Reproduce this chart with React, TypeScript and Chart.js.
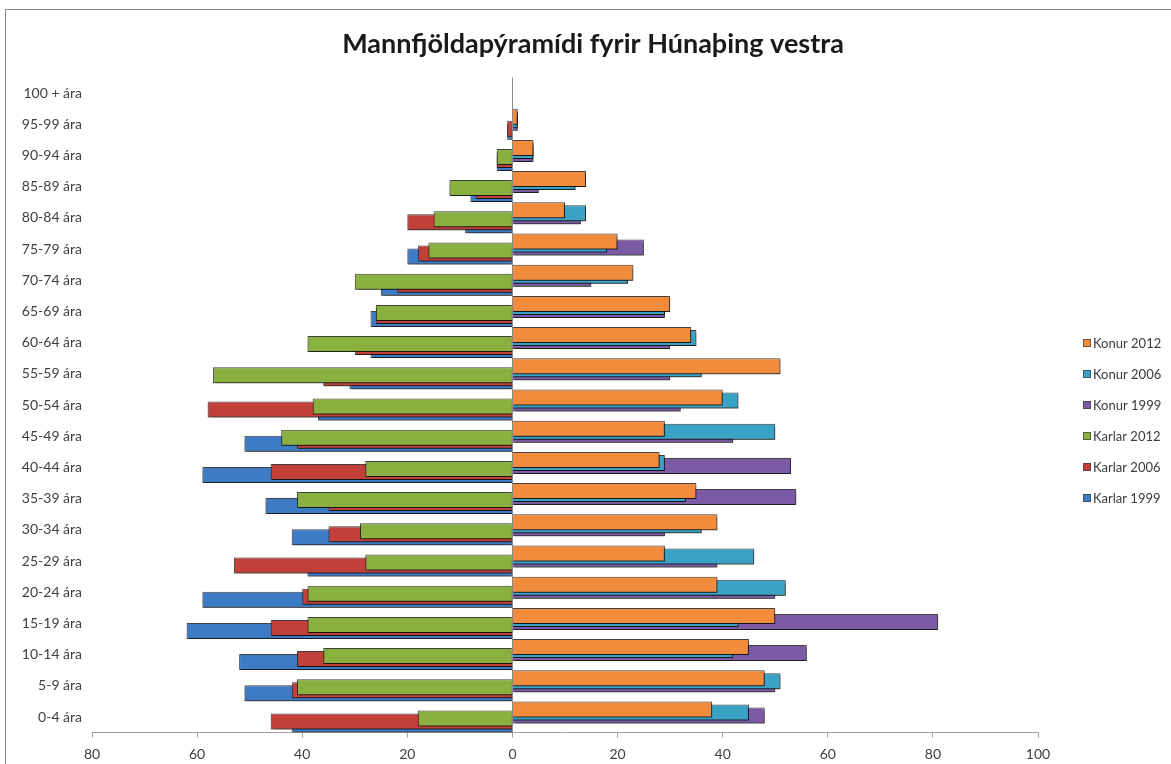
import React, { useEffect, useRef } from "react";
import { Chart, registerables } from "chart.js";

Chart.register(...registerables);

const TITLE = "Mannfjöldapýramídi fyrir Húnaþing vestra";

const ageGroups = [
  "0-4 ára", "5-9 ára", "10-14 ára", "15-19 ára", "20-24 ára", "25-29 ára",
  "30-34 ára", "35-39 ára", "40-44 ára", "45-49 ára", "50-54 ára", "55-59 ára",
  "60-64 ára", "65-69 ára", "70-74 ára", "75-79 ára", "80-84 ára", "85-89 ára",
  "90-94 ára", "95-99 ára", "100 + ára",
];

const konur2012 = [38, 48, 45, 50, 39, 29, 39, 35, 28, 29, 40, 51, 34, 30, 23, 20, 10, 14, 4, 1, 0];
const konur2006 = [45, 51, 42, 43, 52, 46, 36, 33, 29, 50, 43, 36, 35, 29, 22, 18, 14, 12, 4, 1, 0];
const konur1999 = [48, 50, 56, 81, 50, 39, 29, 54, 53, 42, 32, 30, 30, 29, 15, 25, 13, 5, 4, 1, 0];
const karlar2012 = [18, 41, 36, 39, 39, 28, 29, 41, 28, 44, 38, 57, 39, 26, 30, 16, 15, 12, 3, 0, 0];
const karlar2006 = [46, 42, 41, 46, 40, 53, 35, 35, 46, 41, 58, 36, 30, 26, 22, 18, 20, 7, 3, 1, 0];
const karlar1999 = [42, 51, 52, 62, 59, 39, 42, 47, 59, 51, 37, 31, 27, 27, 25, 20, 9, 8, 3, 1, 0];

const seriesNames = ["Konur 2012", "Konur 2006", "Konur 1999", "Karlar 2012", "Karlar 2006", "Karlar 1999"];
const seriesColors = ["#F38B3C", "#3AA2C4", "#7B5BA6", "#8AB13F", "#C3403A", "#3D7CC5"];

const xMin = -80;
const xMax = 100;
const xStep = 20;

const FONT = "Lato, 'Open Sans', sans-serif";

export default function App() {
  const canvasRef = useRef<HTMLCanvasElement | null>(null);

  useEffect(() => {
    if (!canvasRef.current) return;
    const seriesValues = [
      konur2012,
      konur2006,
      konur1999,
      karlar2012.map((v) => -v),
      karlar2006.map((v) => -v),
      karlar1999.map((v) => -v),
    ];

    const shadowPlugin = {
      id: "barShadow",
      beforeDatasetsDraw(chart: any) {
        const ctx = chart.ctx;
        ctx.save();
        ctx.shadowColor = "rgba(0,0,0,0.6)";
        ctx.shadowOffsetX = 1;
        ctx.shadowOffsetY = 2;
        ctx.shadowBlur = 2;
      },
      afterDatasetsDraw(chart: any) {
        chart.ctx.restore();
      },
    };

    const titleLegendPlugin = {
      id: "titleLegend",
      afterDraw(chart: any) {
        const ctx = chart.ctx;
        const area = chart.chartArea;
        ctx.save();
        ctx.fillStyle = "#1a1a1a";
        ctx.font = `bold 27px ${FONT}`;
        ctx.textAlign = "center";
        ctx.textBaseline = "middle";
        ctx.fillText(TITLE, 593, 44);

        ctx.font = `13px ${FONT}`;
        ctx.textAlign = "left";
        const lx = area.right + 45;
        const ly0 = 343;
        chart.data.datasets.forEach((ds: any, i: number) => {
          const y = ly0 + i * 31;
          ctx.fillStyle = ds.backgroundColor;
          ctx.fillRect(lx, y - 4, 8, 8);
          ctx.strokeStyle = "rgba(60,60,60,0.7)";
          ctx.lineWidth = 1;
          ctx.strokeRect(lx + 0.5, y - 3.5, 7, 7);
          ctx.fillStyle = "#3a3a3a";
          ctx.fillText(ds.label, lx + 10, y + 1);
        });
        ctx.restore();
      },
    };

    const chart = new Chart(canvasRef.current, {
      type: "bar",
      data: {
        labels: ageGroups,
        datasets: seriesNames.map((name, i) => ({
          label: name,
          data: seriesValues[i],
          backgroundColor: seriesColors[i],
          borderColor: "rgba(35,35,35,0.85)",
          borderWidth: 1,
          categoryPercentage: 0.577,
          barPercentage: 5.33,
        })),
      },
      options: {
        indexAxis: "y",
        animation: false,
        responsive: false,
        maintainAspectRatio: false,
        layout: { padding: { top: 77.4, left: 15, right: 133, bottom: 0 } },
        plugins: {
          legend: { display: false },
          title: { display: false },
          tooltip: { enabled: false },
        },
        scales: {
          x: {
            type: "linear",
            min: xMin,
            max: xMax,
            ticks: {
              stepSize: xStep,
              color: "#404040",
              font: { family: FONT, size: 14 },
              padding: 8,
              callback: (v: any) => String(Math.abs(Number(v))),
            },
            grid: {
              color: (c: any) => (c.tick && c.tick.value === 0 ? "#8a8a8a" : "rgba(0,0,0,0)"),
              tickColor: "#a0a0a0",
              tickLength: 5,
              drawTicks: true,
            },
            border: { display: true, color: "#a0a0a0" },
            afterFit: (scale: any) => {
              scale.height = 31.4;
            },
          },
          y: {
            type: "category",
            reverse: true,
            ticks: {
              color: "#404040",
              font: { family: FONT, size: 14 },
              padding: 10,
              autoSkip: false,
            },
            grid: { display: false, drawTicks: false },
            border: { display: false },
            afterFit: (scale: any) => {
              scale.width = 77;
            },
          },
        },
      },
      plugins: [shadowPlugin, titleLegendPlugin],
    });
    return () => chart.destroy();
  }, []);

  return (
    <div
      style={{
        position: "absolute",
        left: 0,
        top: 0,
        width: 1171,
        height: 764,
        overflow: "hidden",
        background: "#ffffff",
      }}
    >
      <div
        style={{
          position: "absolute",
          left: 5,
          top: 9,
          width: 1300,
          height: 900,
          border: "1px solid #8a8a8a",
          boxSizing: "border-box",
        }}
      />
      <canvas
        ref={canvasRef}
        width={1171}
        height={764}
        style={{ position: "absolute", left: 0, top: 0, width: 1171, height: 764 }}
      />
    </div>
  );
}
